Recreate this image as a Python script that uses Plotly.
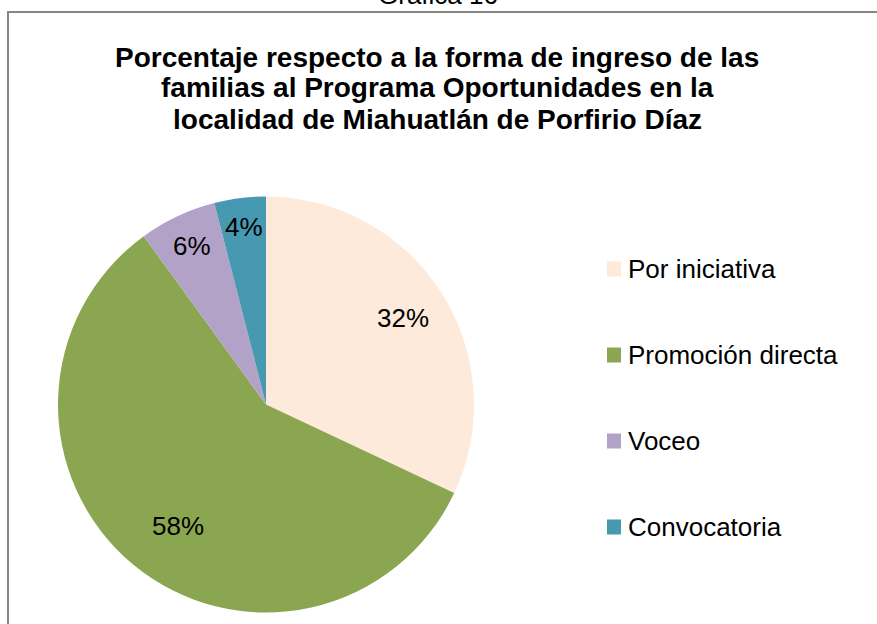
import math
import plotly.graph_objects as go

# ---- data ----
categories = ["Por iniciativa", "Promoción directa", "Voceo", "Convocatoria"]
percentages = [32, 58, 6, 4]
label_texts = ["32%", "58%", "6%", "4%"]
colors = ["#FDEADA", "#8BA650", "#B3A2C7", "#4699B0"]
title_lines = [
    "Porcentaje respecto a la forma de ingreso de las",
    "familias al Programa Oportunidades en la",
    "localidad de Miahuatlán de Porfirio Díaz",
]
caption = "Gráfica 16"

W, H = 877, 624
FONT = "Liberation Sans, Arial, sans-serif"

def px(x):
    return x / W

def py(y):
    return 1 - y / H

# pie geometry (pixels)
cx, cy, R = 266, 404.5, 208
label_r = [0.78, 0.72, 0.84, 0.86]
label_shift = [0.0, -0.01, 0.0, 0.0]  # small angular tweak (fraction of full turn)

fig = go.Figure(go.Pie(
    labels=categories,
    values=percentages,
    sort=False,
    direction="clockwise",
    rotation=0,
    marker=dict(colors=colors, line=dict(width=0)),
    textinfo="none",
    hoverinfo="label+percent",
    showlegend=False,
    domain=dict(x=[px(cx - R), px(cx + R)], y=[py(cy + R), py(cy - R)]),
))

annotations = []
shapes = []

# caption (partly cut at top, as in the reference)
annotations.append(dict(text=caption, x=px(438), y=py(12), xref="paper", yref="paper",
                        xanchor="center", yanchor="bottom", showarrow=False,
                        font=dict(family=FONT, size=26, color="black")))

# title lines
for i, line in enumerate(title_lines):
    annotations.append(dict(text="<b>%s</b>" % line, x=px(437), y=py(57 + 31 * i),
                            xref="paper", yref="paper", xanchor="center", yanchor="middle",
                            showarrow=False, font=dict(family=FONT, size=28, color="black")))

# slice labels
total = sum(percentages)
cum = 0
for v, t, f, s in zip(percentages, label_texts, label_r, label_shift):
    theta = 2 * math.pi * ((cum + v / 2) / total + s)
    cum += v
    lx = cx + R * f * math.sin(theta)
    ly = cy - R * f * math.cos(theta)
    annotations.append(dict(text=t, x=px(lx), y=py(ly), xref="paper", yref="paper",
                            xanchor="center", yanchor="middle", showarrow=False,
                            font=dict(family=FONT, size=26, color="black")))

# legend
for i, (cat, col) in enumerate(zip(categories, colors)):
    yc = 269 + 86 * i
    shapes.append(dict(type="rect", xref="paper", yref="paper",
                       x0=px(607), x1=px(621), y0=py(yc - 7.5), y1=py(yc + 7.5),
                       fillcolor=col, line=dict(width=0)))
    annotations.append(dict(text=cat, x=px(626), y=py(yc), xref="paper", yref="paper",
                            xanchor="left", yanchor="middle", showarrow=False,
                            font=dict(family=FONT, size=26, color="black")))

# chart border
shapes.append(dict(type="rect", xref="paper", yref="paper",
                   x0=px(8), x1=px(W + 20), y0=py(H + 20), y1=py(12),
                   line=dict(color="#868686", width=2), fillcolor="rgba(0,0,0,0)"))

fig.update_layout(
    width=W, height=H,
    margin=dict(l=0, r=0, t=0, b=0),
    paper_bgcolor="white",
    plot_bgcolor="white",
    annotations=annotations,
    shapes=shapes,
)

fig.write_html("out.html",
               config={"displayModeBar": False},
               post_script="document.body.style.margin='0';document.body.style.overflow='hidden';")
